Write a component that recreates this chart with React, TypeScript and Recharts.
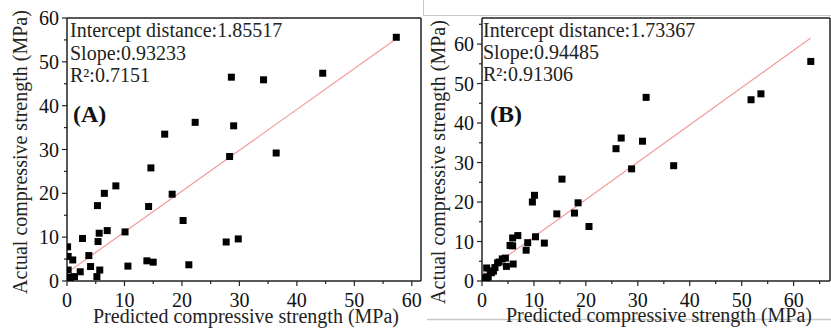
import React from "react";
import { ScatterChart, Scatter, XAxis, YAxis, ReferenceLine } from "recharts";

// Actual compressive strength (MPa) — shared by both panels
const actual = [55.6, 47.4, 46.5, 45.9, 36.2, 35.4, 33.5, 29.2, 28.4, 25.8, 21.7, 20.0, 19.8, 17.2, 17.0, 13.8, 11.5, 11.2, 10.9, 9.7, 9.6, 9.0, 8.9, 7.8, 5.8, 5.6, 4.8, 4.6, 4.3, 3.7, 3.4, 3.3, 2.5, 2.5, 2.1, 1.0, 0.8, 1.0];
// Predicted compressive strength (MPa), panel A
const predictedA = [57.3, 44.5, 28.6, 34.2, 22.3, 29.0, 17.0, 36.4, 28.3, 14.6, 8.5, 6.5, 18.3, 5.3, 14.2, 20.2, 7.0, 10.1, 5.6, 2.7, 29.8, 5.4, 27.7, 0.1, 3.8, 0.2, 1.0, 13.9, 15.0, 21.2, 10.6, 4.1, 5.7, 0.2, 2.3, 5.2, 0.6, 1.3];
// Predicted compressive strength (MPa), panel B
const predictedB = [63.3, 53.7, 31.6, 51.8, 26.8, 30.9, 25.8, 36.9, 28.8, 15.4, 10.1, 9.7, 18.5, 17.8, 14.4, 20.6, 6.9, 10.3, 5.9, 8.8, 12.0, 5.4, 5.9, 8.5, 4.5, 3.9, 3.3, 3.0, 6.0, 4.7, 2.5, 0.9, 2.2, 1.6, 1.8, 1.2, 0.7, 0.9];

// Fit line endpoints
const fitA = [{ x: 0, y: 1.855 }, { x: 57.3, y: 55.28 }];
const fitB = [{ x: 0, y: 1.734 }, { x: 63.3, y: 61.54 }];

const ticksA_x = [0, 5, 10, 15, 20, 25, 30, 35, 40, 45, 50, 55, 60];
const ticksA_y = [0, 5, 10, 15, 20, 25, 30, 35, 40, 45, 50, 55, 60];
const ticksB_x = [0, 5, 10, 15, 20, 25, 30, 35, 40, 45, 50, 55, 60, 65];
const ticksB_y = [0, 5, 10, 15, 20, 25, 30, 35, 40, 45, 50, 55, 60, 65];

const statsA = ["Intercept distance:1.85517", "Slope:0.93233", "R\u00b2:0.7151"];
const statsB = ["Intercept distance:1.73367", "Slope:0.94485", "R\u00b2:0.91306"];

const xTitle = "Predicted compressive strength (MPa)";
const yTitle = "Actual compressive strength (MPa)";

const FONT = "Liberation Serif, Tinos, Times New Roman, serif";
const serif = { fontFamily: FONT };
const AXIS = "#222";

const dataA = actual.map((a, i) => ({ x: predictedA[i], y: a }));
const dataB = actual.map((a, i) => ({ x: predictedB[i], y: a }));

const XTick = (props: any) => {
  const { x, y, payload } = props;
  const major = payload.value % 10 === 0;
  return (
    <g>
      <line x1={x} x2={x} y1={y} y2={y + (major ? 5 : 3)} stroke={AXIS} strokeWidth={1.2} />
      {major && (
        <text x={x} y={y + 26} textAnchor="middle" style={serif} fontSize={20} fill="#111">
          {payload.value}
        </text>
      )}
    </g>
  );
};

const YTick = (props: any) => {
  const { x, y, payload } = props;
  const major = payload.value % 10 === 0;
  return (
    <g>
      <line x1={x} x2={x - (major ? 5 : 3)} y1={y} y2={y} stroke={AXIS} strokeWidth={1.2} />
      {major && (
        <text x={x - 8} y={y + 7} textAnchor="end" style={serif} fontSize={20} fill="#111">
          {payload.value}
        </text>
      )}
    </g>
  );
};

const Square = (props: any) => {
  const { cx, cy } = props;
  return <rect x={cx - 3.5} y={cy - 3.5} width={7} height={7} fill="#000" />;
};

type PanelProps = {
  data: { x: number; y: number }[];
  fit: { x: number; y: number }[];
  xMax: number;
  yMax: number;
  xTicks: number[];
  yTicks: number[];
  width: number;
  yAxisWidth: number;
  marginRight: number;
};

const Panel = ({ data, fit, xMax, yMax, xTicks, yTicks, width, yAxisWidth, marginRight }: PanelProps) => (
  <ScatterChart width={width} height={333} margin={{ top: 18, right: marginRight, bottom: 0, left: 0 }}>
    <XAxis
      type="number"
      dataKey="x"
      domain={[0, xMax]}
      ticks={xTicks}
      interval={0}
      allowDataOverflow
      height={52}
      tickSize={0}
      tickMargin={0}
      tickLine={false}
      tick={<XTick />}
      axisLine={{ stroke: AXIS, strokeWidth: 1.5 }}
    />
    <YAxis
      type="number"
      dataKey="y"
      domain={[0, yMax]}
      ticks={yTicks}
      interval={0}
      allowDataOverflow
      width={yAxisWidth}
      tickSize={0}
      tickMargin={0}
      tickLine={false}
      tick={<YTick />}
      axisLine={{ stroke: AXIS, strokeWidth: 1.5 }}
    />
    <ReferenceLine y={yMax} stroke={AXIS} strokeWidth={1.5} />
    <ReferenceLine x={xMax} stroke={AXIS} strokeWidth={1.5} />
    <ReferenceLine segment={fit} stroke="#f09a9a" strokeWidth={1.2} ifOverflow="visible" />
    <Scatter data={data} shape={<Square />} isAnimationActive={false} />
  </ScatterChart>
);

export default function App() {
  return (
    <div style={{ position: "absolute", left: 0, top: 0, width: 831, height: 333, background: "#fff", overflow: "hidden", fontFamily: FONT }}>
      <div style={{ position: "absolute", left: 0, top: 0 }}>
        <Panel data={dataA} fit={fitA} xMax={61.6} yMax={60} xTicks={ticksA_x} yTicks={ticksA_y} width={423} yAxisWidth={67} marginRight={2} />
      </div>
      <div style={{ position: "absolute", left: 423, top: 0 }}>
        <Panel data={dataB} fit={fitB} xMax={67} yMax={66.6} xTicks={ticksB_x} yTicks={ticksB_y} width={408} yAxisWidth={59} marginRight={1} />
      </div>
      <svg width={831} height={333} style={{ position: "absolute", left: 0, top: 0, pointerEvents: "none" }}>
        <line x1={423.5} x2={423.5} y1={0} y2={16} stroke="#c8c8c8" strokeWidth={1} />
        <line x1={423.5} x2={831} y1={15.5} y2={15.5} stroke="#c8c8c8" strokeWidth={1} />
        <line x1={427} x2={831} y1={319.5} y2={319.5} stroke="#c8c8c8" strokeWidth={1.5} />
        <g style={serif} fontSize={20} fill="#222">
          {statsA.map((s, i) => (
            <text key={"a" + i} x={70} y={37 + i * 22.5} style={serif}>{s}</text>
          ))}
          {statsB.map((s, i) => (
            <text key={"b" + i} x={483} y={37 + i * 22} style={serif}>{s}</text>
          ))}
          <text x={246} y={323} textAnchor="middle" style={serif}>{xTitle}</text>
          <text x={659} y={322} textAnchor="middle" style={serif}>{xTitle}</text>
          <text transform="translate(27,152) rotate(-90)" textAnchor="middle" style={serif}>{yTitle}</text>
          <text transform="translate(445,162) rotate(-90)" textAnchor="middle" style={serif}>{yTitle}</text>
        </g>
        <text x={73} y={122} style={serif} fontSize={24} fontWeight="bold" fill="#111">(A)</text>
        <text x={490} y={122} style={serif} fontSize={24} fontWeight="bold" fill="#111">(B)</text>
      </svg>
    </div>
  );
}
